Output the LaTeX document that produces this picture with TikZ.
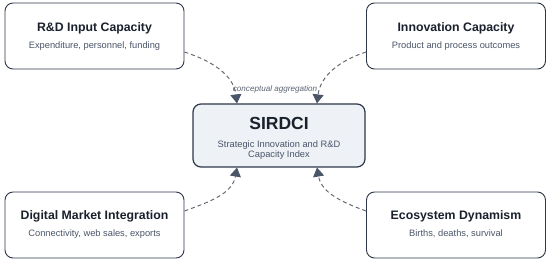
\documentclass[tikz,border=0pt]{standalone}
\usepackage{fontspec}
\setmainfont{Liberation Sans}
\usetikzlibrary{arrows.meta}
\definecolor{boxline}{HTML}{2D3748}
\definecolor{titlecol}{HTML}{1A202C}
\definecolor{subcol}{HTML}{4A5568}
\definecolor{centerfill}{HTML}{EEF2F7}
\definecolor{linkcol}{HTML}{666B73}
\definecolor{tipcol}{HTML}{4A5568}
\definecolor{labelcol}{HTML}{5A6270}
\tikzset{
  card/.style={draw=boxline, line width=0.9pt, rounded corners=8pt, fill=white,
    minimum width=179pt, minimum height=66pt, inner sep=0pt},
  corecard/.style={card, fill=centerfill, line width=1.2pt, minimum width=172pt, minimum height=63pt},
  cardtitle/.style={inner sep=0pt, anchor=base, text=titlecol, font=\bfseries\fontsize{12.3}{14}\selectfont},
  cardsub/.style={inner sep=0pt, anchor=base, text=subcol, font=\fontsize{9.3}{11}\selectfont},
  coretitle/.style={inner sep=0pt, anchor=base, text=titlecol, font=\bfseries\fontsize{17.5}{20}\selectfont},
  link/.style={draw=linkcol, line width=1pt, dash pattern=on 4pt off 3pt,
    -{Triangle[length=9pt,width=11pt,fill=tipcol,color=tipcol]}},
  linklabel/.style={inner sep=0pt, anchor=base, text=labelcol, font=\itshape\fontsize{8.1}{10}\selectfont}
}
\begin{document}
\begin{tikzpicture}[x=1pt,y=1pt]
\useasboundingbox (0,0) rectangle (550,262);
% boxes
\node[card] (rd) at (94.5,226) {};
\node[card] (ic) at (456,226) {};
\node[card] (dm) at (94.5,37) {};
\node[card] (ed) at (456,37) {};
\node[corecard] (c) at (279,126.5) {};
% texts
\node[cardtitle] (rdT) at ([yshift=4.3pt]rd.center) {R\&D Input Capacity};
\node[cardsub] (rdS) at ([yshift=-12.7pt]rd.center) {Expenditure, personnel, funding};
\node[cardtitle] (icT) at ([yshift=4.3pt]ic.center) {Innovation Capacity};
\node[cardsub] (icS) at ([yshift=-12.7pt]ic.center) {Product and process outcomes};
\node[cardtitle] (dmT) at ([yshift=5pt]dm.center) {Digital Market Integration};
\node[cardsub] (dmS) at ([yshift=-12pt]dm.center) {Connectivity, web sales, exports};
\node[cardtitle] (edT) at ([yshift=5pt]ed.center) {Ecosystem Dynamism};
\node[cardsub] (edS) at ([yshift=-12pt]ed.center) {Births, deaths, survival};
\node[coretitle] (cT) at ([yshift=5.5pt]c.center) {SIRDCI};
\node[cardsub] (cS1) at ([yshift=-12pt]c.center) {Strategic Innovation and R\&D};
\node[cardsub] (cS2) at ([yshift=-22.5pt]c.center) {Capacity Index};
% connectors
\draw[link] ([yshift=-16pt]rd.east) to[out=-18,in=97] ([xshift=-42pt]c.north);
\draw[link] ([yshift=-16pt]ic.west) to[out=198,in=83] ([xshift=38pt]c.north);
\draw[link] ([yshift=14pt]dm.east) to[out=20,in=-100] ([xshift=-42pt]c.south);
\draw[link] ([yshift=14pt]ed.west) to[out=160,in=-80] ([xshift=38pt]c.south);
% label
\node[linklabel] (lbl) at (275,170.3) {conceptual aggregation};
\end{tikzpicture}
\end{document}
